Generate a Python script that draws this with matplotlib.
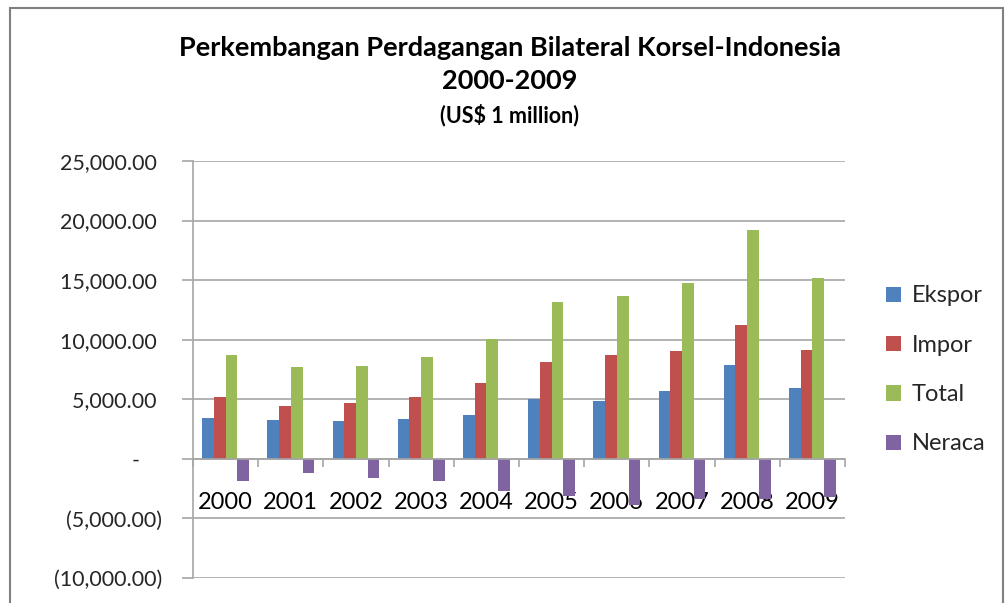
import numpy as np
import matplotlib
matplotlib.use("Agg")
import matplotlib.pyplot as plt
from matplotlib.patches import Rectangle
from matplotlib.ticker import FuncFormatter

# Korea - Indonesia bilateral trade, US$ million
years = ["2000", "2001", "2002", "2003", "2004", "2005", "2006", "2007", "2008", "2009"]
ekspor = [3470, 3280, 3170, 3360, 3700, 5040, 4870, 5710, 7900, 5940]
impor = [5180, 4450, 4680, 5180, 6390, 8120, 8740, 9080, 11230, 9160]
total = [8740, 7670, 7790, 8540, 10050, 13170, 13700, 14790, 19220, 15210]
neraca = [-1820, -1200, -1620, -1820, -2690, -3080, -3870, -3370, -3330, -3220]

series = [("Ekspor", ekspor, "#4F81BD"),
          ("Impor", impor, "#C0504D"),
          ("Total", total, "#9BBB59"),
          ("Neraca", neraca, "#8064A2")]

plt.rcParams['font.family'] = ['Lato', 'DejaVu Sans']

W, H = 1007, 603
fig = plt.figure(figsize=(W / 100, H / 100), dpi=100)

# outer chart frame
fig.patches.append(Rectangle((10 / W, -0.02), (1003 - 10) / W, 1.02 - 8 / H,
                             transform=fig.transFigure, fill=False,
                             edgecolor="#808080", linewidth=1.5))

ax = fig.add_axes([193 / W, 1 - 578 / H, (845 - 193) / W, (578 - 161) / H])

x = np.arange(len(years))
bw = 0.18
handles = []
for i, (name, vals, col) in enumerate(series):
    b = ax.bar(x + (i - 1.5) * bw, vals, width=bw, color=col, label=name, zorder=3)
    handles.append(b)

ax.set_xlim(-0.5, len(years) - 0.5)
ax.set_ylim(-10000, 25000)
ax.set_yticks(np.arange(-10000, 25001, 5000))


def fmt(v, pos):
    if v == 0:
        return "-    "
    if v < 0:
        return "({:,.2f})".format(-v)
    return "{:,.2f} ".format(v)


ax.yaxis.set_major_formatter(FuncFormatter(fmt))
ax.grid(axis="y", color="#A6A6A6", linewidth=1.2, zorder=0)
ax.set_axisbelow(True)

for s in ["top", "right"]:
    ax.spines[s].set_visible(False)
ax.spines["left"].set_color("#A6A6A6")
ax.spines["left"].set_linewidth(1.2)
ax.spines["bottom"].set_position(("data", 0))
ax.spines["bottom"].set_color("#A6A6A6")
ax.spines["bottom"].set_linewidth(1.2)
ax.spines["bottom"].set_zorder(4)

ax.tick_params(axis="y", length=8, width=1.2, color="#A6A6A6",
               labelsize=15.5, labelcolor="#262626", pad=14)
ax.set_xticks(np.arange(-0.5, len(years), 1.0))
ax.set_xticklabels([])
ax.set_xticks(x, minor=True)
ax.set_xticklabels(years, minor=True)
ax.tick_params(axis="x", which="major", length=6, width=1.2, color="#A6A6A6")
ax.tick_params(axis="x", which="minor", length=0, labelsize=17,
               labelcolor="#000000", pad=24)

fig.text(510 / W, 1 - 48 / H, "Perkembangan Perdagangan Bilateral Korsel-Indonesia",
         ha="center", va="center", fontsize=19.5, fontweight="bold")
fig.text(510 / W, 1 - 81 / H, "2000-2009",
         ha="center", va="center", fontsize=19.5, fontweight="bold")
fig.text(510 / W, 1 - 115 / H, "(US$ 1 million)",
         ha="center", va="center", fontsize=15.5, fontweight="bold")

fig.legend(handles=handles, loc="center left", bbox_to_anchor=(865 / W, 1 - 370 / H),
           frameon=False, fontsize=17, handlelength=0.62, handleheight=0.62,
           handletextpad=0.45, labelspacing=1.2, labelcolor="#262626")

fig.savefig("out.png", dpi=100)
